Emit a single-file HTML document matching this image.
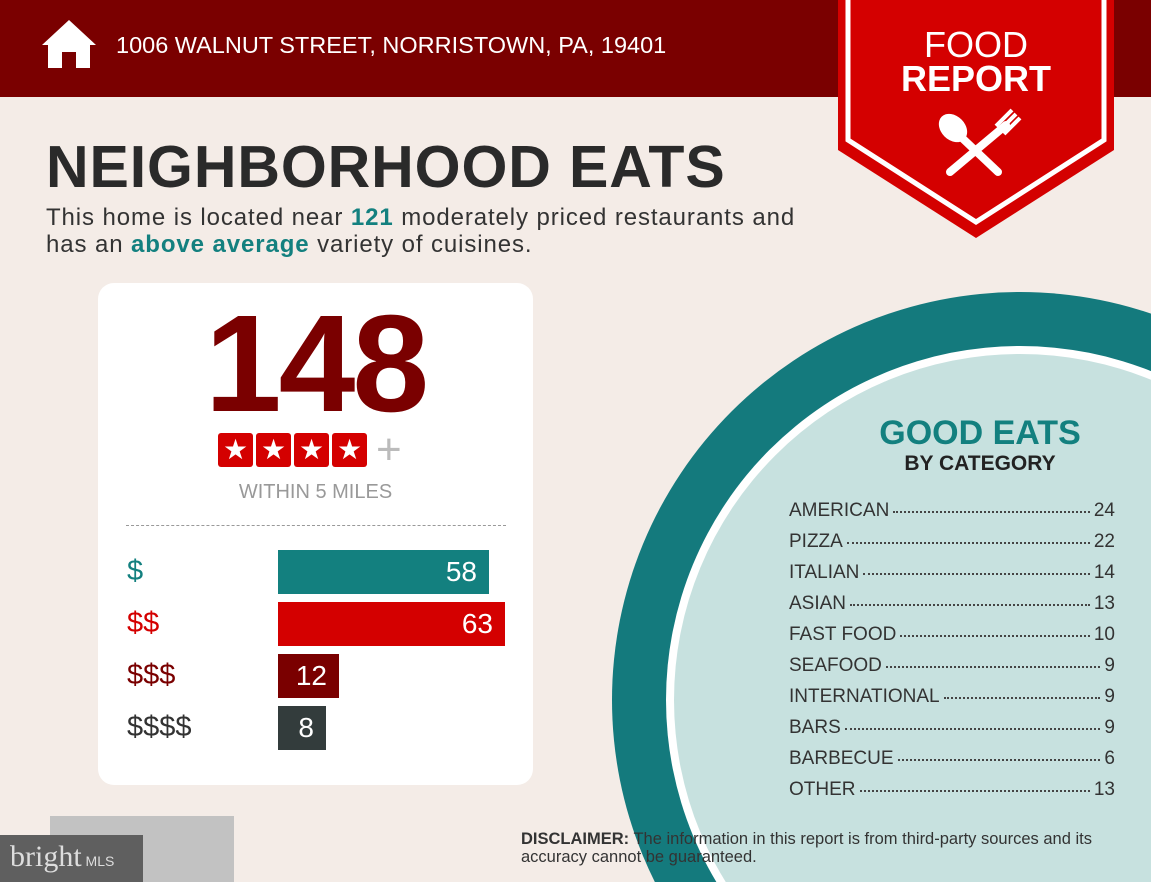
<!DOCTYPE html>
<html style="overflow:hidden"><head><style>
body{margin:0;width:1151px;height:882px;overflow:hidden;background:#f4ece7;font-family:"Liberation Sans",sans-serif;position:relative}
.a{position:absolute}
.row{position:absolute;left:789px;width:326px;font-size:19px;color:#333;display:flex;align-items:baseline}
.row .d{flex:1;border-bottom:2px dotted #444;margin:0 4px;height:0;position:relative;top:-3px}
.bar{position:absolute;left:278px;height:44px;color:#fff;font-size:28px;text-align:right;box-sizing:border-box;padding-right:12px;line-height:44px}
.lab{position:absolute;left:127px;font-size:29px}
.st{width:35px;height:34px;background:#d40000;border-radius:3px;color:#fff;font-size:28px;text-align:center;line-height:34px}
</style></head><body>
<div class="a" style="left:0;top:0;width:1151px;height:97px;background:#7a0000"></div>
<svg class="a" style="left:40px;top:18px" width="58" height="52" viewBox="0 0 58 52"><path d="M29 2 L56 27 L50 27 L50 50 L36 50 L36 34 L22 34 L22 50 L8 50 L8 27 L2 27 Z" fill="#fff"/></svg>
<div class="a" style="left:116px;top:32px;color:#fff;font-size:23.5px">1006 WALNUT STREET, NORRISTOWN, PA, 19401</div>
<svg class="a" style="left:838px;top:0" width="276" height="240" viewBox="0 0 276 240"><polygon points="0,0 276,0 276,150 138,238 0,150" fill="#d40000"/><polyline points="10,0 10,140 138,222 266,140 266,0" fill="none" stroke="#fff" stroke-width="5"/>
<g fill="#fff"><ellipse cx="115" cy="128" rx="12" ry="16" transform="rotate(-45 115 128)"/><line x1="122" y1="136" x2="160" y2="172" stroke="#fff" stroke-width="8" stroke-linecap="round"/><line x1="168" y1="125" x2="112" y2="172" stroke="#fff" stroke-width="8" stroke-linecap="round"/><path d="M162 130 L178 114 M166 134 L182 118 M158 126 L174 110" stroke="#fff" stroke-width="4"/></g></svg>
<div class="a" style="left:838px;top:28px;width:276px;text-align:center;color:#fff;font-size:36px;line-height:34px">FOOD<br><b>REPORT</b></div>
<div class="a" style="left:46px;top:133px;font-size:59px;font-weight:bold;color:#2a2a2a;letter-spacing:0.9px">NEIGHBORHOOD EATS</div>
<div class="a" style="left:46px;top:204px;font-size:24px;color:#333;line-height:27px;letter-spacing:0.9px">This home is located near <b style="color:#13807f">121</b> moderately priced restaurants and<br>has an <b style="color:#13807f">above average</b> variety of cuisines.</div>
<div class="a" style="left:98px;top:283px;width:435px;height:502px;background:#fff;border-radius:16px"></div>
<div class="a" style="left:98px;top:285px;width:435px;text-align:center;font-size:138px;font-weight:bold;color:#7a0000;letter-spacing:-3px">148</div>
<div class="a" style="left:218px;top:433px;display:flex;gap:3px">
<div class="st">★</div><div class="st">★</div><div class="st">★</div><div class="st">★</div>
<div style="color:#bbb;font-size:44px;line-height:34px;margin-left:6px">+</div></div>
<div class="a" style="left:98px;top:481px;width:435px;text-align:center;font-size:20px;color:#999">WITHIN 5 MILES</div>
<div class="a" style="left:126px;top:525px;width:380px;border-top:1px dashed #999"></div>
<div class="lab" style="top:555px;color:#13807f">$</div><div class="bar" style="top:550px;width:211px;background:#13807f">58</div>
<div class="lab" style="top:607px;color:#d40000">$$</div><div class="bar" style="top:602px;width:227px;background:#d40000">63</div>
<div class="lab" style="top:659px;color:#7a0000">$$$</div><div class="bar" style="top:654px;width:61px;background:#7a0000">12</div>
<div class="lab" style="top:711px;color:#333">$$$$</div><div class="bar" style="top:706px;width:48px;background:#333c3c">8</div>
<svg class="a" style="left:0;top:0" width="1151" height="882"><circle cx="1020" cy="700" r="408" fill="#147a7d"/><circle cx="1020" cy="700" r="354" fill="#fff"/><circle cx="1020" cy="700" r="346" fill="#c7e1df"/></svg>
<div class="a" style="left:840px;top:414px;width:280px;text-align:center;font-size:34px;font-weight:bold;color:#13807f">GOOD EATS</div>
<div class="a" style="left:840px;top:452px;width:280px;text-align:center;font-size:21px;font-weight:bold;color:#222">BY CATEGORY</div>
<div class="row" style="top:500px">AMERICAN<span class="d"></span>24</div>
<div class="row" style="top:531px">PIZZA<span class="d"></span>22</div>
<div class="row" style="top:562px">ITALIAN<span class="d"></span>14</div>
<div class="row" style="top:593px">ASIAN<span class="d"></span>13</div>
<div class="row" style="top:624px">FAST FOOD<span class="d"></span>10</div>
<div class="row" style="top:655px">SEAFOOD<span class="d"></span>9</div>
<div class="row" style="top:686px">INTERNATIONAL<span class="d"></span>9</div>
<div class="row" style="top:717px">BARS<span class="d"></span>9</div>
<div class="row" style="top:748px">BARBECUE<span class="d"></span>6</div>
<div class="row" style="top:779px">OTHER<span class="d"></span>13</div>
<div class="a" style="left:521px;top:830px;font-size:16.5px;color:#333;line-height:18px"><b>DISCLAIMER:</b> The information in this report is from third-party sources and its<br>accuracy cannot be guaranteed.</div>
<div class="a" style="left:50px;top:816px;width:184px;height:66px;background:#c2c2c2"></div>
<div class="a" style="left:0;top:835px;width:143px;height:47px;background:#5f5f5f;color:#ddd;font-family:'Liberation Serif',serif;font-size:30px;line-height:44px;padding-left:10px;box-sizing:border-box">bright<span style="font-family:'Liberation Sans';font-size:14px"> MLS</span></div>
</body></html>
